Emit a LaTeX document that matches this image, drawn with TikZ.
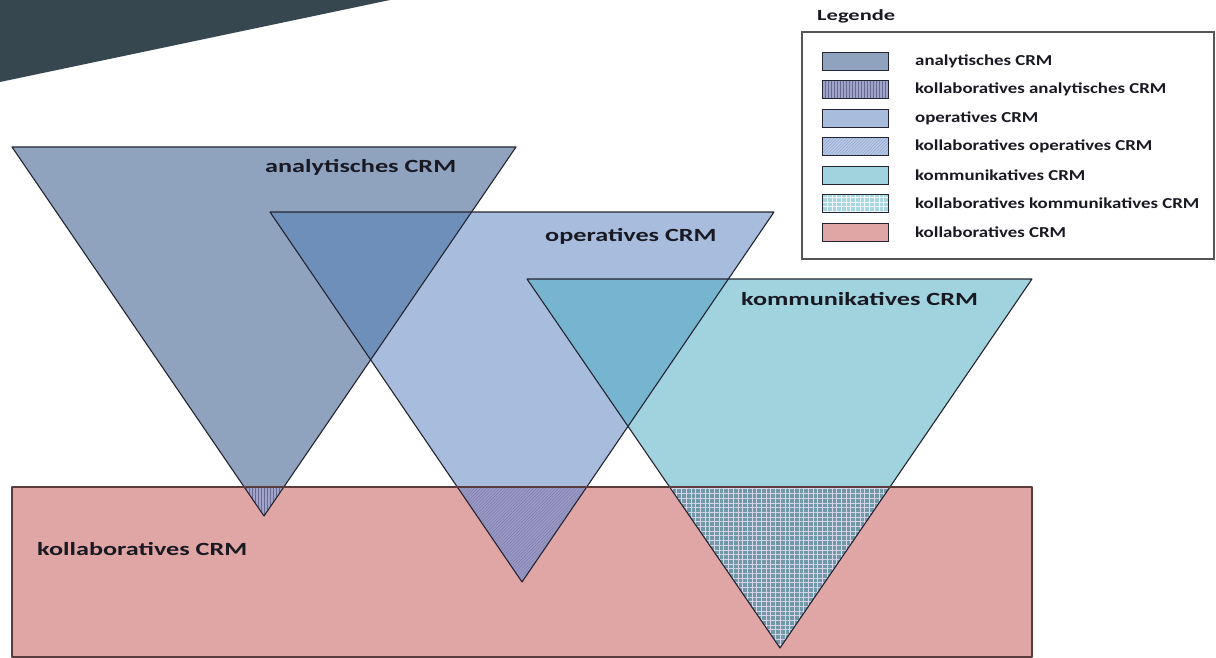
\documentclass[tikz,border=0pt]{standalone}
\usepackage{fontspec}
\setmainfont{Carlito}
\usetikzlibrary{patterns.meta}

\definecolor{slideDark}{RGB}{55,71,79}
\definecolor{anaFill}{RGB}{143,163,191}
\definecolor{opFill}{RGB}{168,189,221}
\definecolor{komFill}{RGB}{160,211,222}
\definecolor{anaOpFill}{RGB}{110,143,186}
\definecolor{opKomFill}{RGB}{118,180,207}
\definecolor{kolFill}{RGB}{224,166,166}
\definecolor{tipAna}{RGB}{160,164,202}
\definecolor{tipAnaLine}{RGB}{104,106,148}
\definecolor{tipOp}{RGB}{155,155,198}
\definecolor{tipOpLine}{RGB}{128,128,176}
\definecolor{tipKom}{RGB}{112,152,166}
\definecolor{tipKomLine}{RGB}{214,212,232}
\definecolor{legOp}{RGB}{184,202,232}
\definecolor{legOpLine}{RGB}{150,168,205}
\definecolor{legKom}{RGB}{168,214,226}
\definecolor{legKomLine}{RGB}{240,246,250}
\definecolor{edgeDark}{RGB}{36,36,50}
\definecolor{labelInk}{RGB}{25,25,35}

\newcommand{\widetext}[2]{\scalebox{#1}[1]{#2}}

\begin{document}
\begin{tikzpicture}[x=1pt, y=-1pt,
    outline/.style={draw=edgeDark, line width=1.1pt, line join=round},
    crmlabel/.style={font=\bfseries\fontsize{18.6}{20}\selectfont, anchor=west, inner sep=0pt, text=labelInk},
    legtext/.style={font=\bfseries\fontsize{15.2}{17}\selectfont, anchor=west, inner sep=0pt, text=labelInk},
    swatch/.style={draw=edgeDark, line width=0.9pt, minimum width=66pt, minimum height=18pt, inner sep=0pt},
    hatchAna/.style={preaction={fill=tipAna}, pattern={Lines[angle=90, distance=3pt, line width=0.8pt]}, pattern color=tipAnaLine},
    hatchOp/.style={preaction={fill=tipOp}, pattern={Lines[angle=45, distance=2.2pt, line width=0.6pt]}, pattern color=tipOpLine},
    hatchKom/.style={preaction={fill=tipKom}, pattern={Hatch[angle=0, distance=4.7pt, line width=0.7pt]}, pattern color=tipKomLine}]

  \useasboundingbox (0,0) rectangle (1216,658);
  \fill[white] (0,0) rectangle (1216,658);
  \fill[slideDark] (0,0) -- (390,0) -- (0,82) -- cycle;

  % corner points of the three triangles and of the box
  \coordinate (anaL) at (12,147);
  \coordinate (anaR) at (516,147);
  \coordinate (anaT) at (264,516);
  \coordinate (opL) at (270,212);
  \coordinate (opR) at (774,212);
  \coordinate (opT) at (522,582);
  \coordinate (komL) at (527,279);
  \coordinate (komR) at (1032,279);
  \coordinate (komT) at (780,648);
  \coordinate (kolNW) at (12,487);
  \coordinate (kolSE) at (1032,657);

  % fills
  \fill[anaFill] (anaL) -- (anaR) -- (anaT) -- cycle;
  \fill[opFill] (opL) -- (opR) -- (opT) -- cycle;
  \fill[komFill] (komL) -- (komR) -- (komT) -- cycle;
  \begin{scope}
    \clip (anaL) -- (anaR) -- (anaT) -- cycle;
    \fill[anaOpFill] (opL) -- (opR) -- (opT) -- cycle;
  \end{scope}
  \begin{scope}
    \clip (opL) -- (opR) -- (opT) -- cycle;
    \fill[opKomFill] (komL) -- (komR) -- (komT) -- cycle;
  \end{scope}
  \fill[kolFill] (kolNW) rectangle (kolSE);

  % tips inside the collaborative box
  \begin{scope}
    \clip (kolNW) rectangle (kolSE);
    \fill[hatchAna] (anaL) -- (anaR) -- (anaT) -- cycle;
    \fill[hatchOp] (opL) -- (opR) -- (opT) -- cycle;
    \fill[hatchKom] (komL) -- (komR) -- (komT) -- cycle;
  \end{scope}

  % outlines
  \draw[outline] (anaL) -- (anaR) -- (anaT) -- cycle;
  \draw[outline] (opL) -- (opR) -- (opT) -- cycle;
  \draw[outline] (komL) -- (komR) -- (komT) -- cycle;
  \draw[outline, draw={rgb,255:red,90;green,60;blue,60}] (kolNW) rectangle (kolSE);

  % labels
  \node[crmlabel] (lblAna) at (265,167) {\widetext{1.41}{analytisches CRM}};
  \node[crmlabel] (lblOp) at (545,236) {\widetext{1.41}{operatives CRM}};
  \node[crmlabel] (lblKom) at (741,299) {\widetext{1.41}{kommunikatives CRM}};
  \node[crmlabel] (lblKol) at (37,549) {\widetext{1.41}{kollaboratives CRM}};

  % legend
  \node[crmlabel, font=\bfseries\fontsize{15.5}{17}\selectfont] (legTitle) at (817,16) {\widetext{1.45}{Legende}};
  \draw[draw={rgb,255:red,85;green,85;blue,85}, line width=1.1pt] (802,32) rectangle (1214,259);

  \node[swatch, fill=anaFill] (swAna) at (855,61) {};
  \node[swatch, hatchAna] (swKolAna) at (855,89.5) {};
  \node[swatch, fill=opFill] (swOp) at (855,118) {};
  \node[swatch, hatchOp, preaction={fill=legOp}, pattern color=legOpLine] (swKolOp) at (855,146.5) {};
  \node[swatch, fill=komFill] (swKom) at (855,175) {};
  \node[swatch, hatchKom, preaction={fill=legKom}, pattern color=legKomLine] (swKolKom) at (855,203.5) {};
  \node[swatch, fill=kolFill] (swKol) at (855,232) {};

  \node[legtext] (txAna) at (915,61) {\widetext{1.24}{analytisches CRM}};
  \node[legtext] (txKolAna) at (915,89.5) {\widetext{1.24}{kollaboratives analytisches CRM}};
  \node[legtext] (txOp) at (915,118) {\widetext{1.24}{operatives CRM}};
  \node[legtext] (txKolOp) at (915,146.5) {\widetext{1.24}{kollaboratives operatives CRM}};
  \node[legtext] (txKom) at (915,175) {\widetext{1.24}{kommunikatives CRM}};
  \node[legtext] (txKolKom) at (915,203.5) {\widetext{1.24}{kollaboratives kommunikatives CRM}};
  \node[legtext] (txKol) at (915,232) {\widetext{1.24}{kollaboratives CRM}};
\end{tikzpicture}
\end{document}
